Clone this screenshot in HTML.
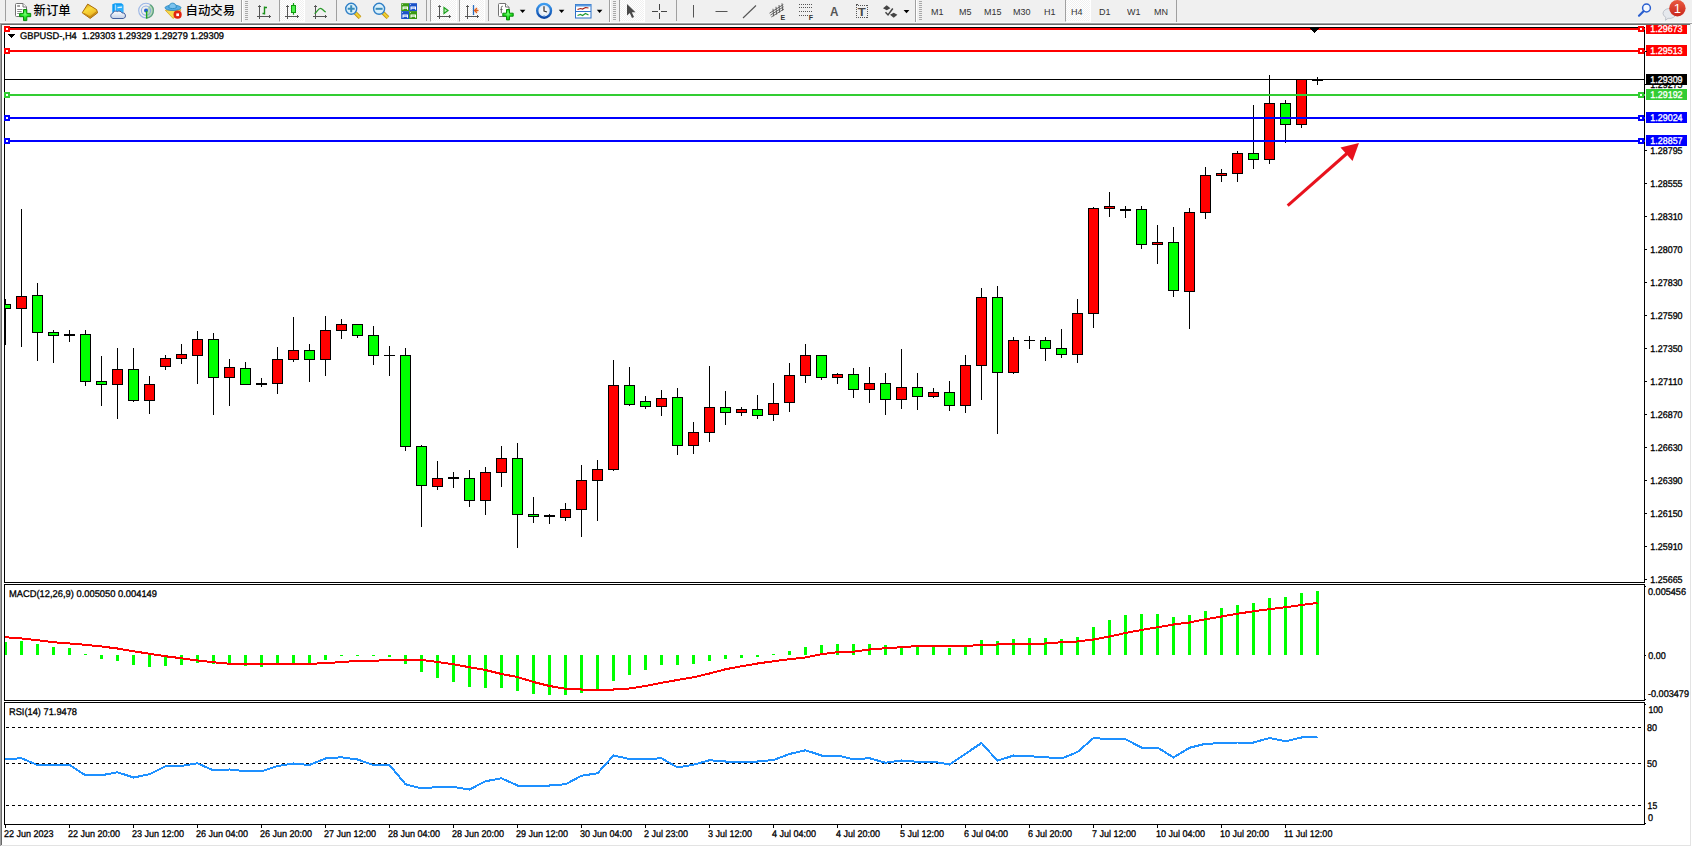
<!DOCTYPE html>
<html><head><meta charset="utf-8"><title>GBPUSD-,H4</title>
<style>
html,body{margin:0;padding:0;background:#fff;}
body{width:1692px;height:847px;overflow:hidden;position:relative;font-family:"Liberation Sans","Noto Sans CJK SC",sans-serif;}
#tb{position:absolute;left:0;top:0;width:1692px;height:23px;background:#f0f0f0;}
#tb .sep{position:absolute;top:0;width:1px;height:21px;background:#a0a0a0;}
#tb .grip{position:absolute;top:1px;width:3px;height:19px;background:repeating-linear-gradient(to bottom,#a8a8a8 0,#a8a8a8 1px,#f0f0f0 1px,#f0f0f0 2px);}
#tb .pr{position:absolute;top:0;height:22px;background-color:#f0f0f0;background-image:conic-gradient(#fff 25%,#f0f0f0 0 50%,#fff 0 75%,#f0f0f0 0);background-size:2px 2px;border-left:1px solid #a0a0a0;border-right:1px solid #fff;border-bottom:1px solid #fff;box-sizing:border-box;}
#tb .cn{position:absolute;top:3px;font-weight:500;font-size:12.4px;line-height:16px;color:#000;white-space:nowrap;}
#tb .tf{position:absolute;top:6px;font-size:9.3px;line-height:13px;color:#333;white-space:nowrap;transform-origin:0 0;transform:scaleX(.968);}
#tb svg{position:absolute;overflow:visible;}
.dd{position:absolute;top:10px;width:0;height:0;border-left:2.500px solid transparent;border-right:2.500px solid transparent;border-top:3px solid #000;}
#e0{position:absolute;left:0;top:22px;width:1692px;height:1px;background:#fafafa;}
#e1{position:absolute;left:0;top:23px;width:1692px;height:1px;background:#a0a0a0;}
#e2{position:absolute;left:1px;top:24px;width:1690px;height:1px;background:#696969;}
#e3{position:absolute;left:0;top:23px;width:1px;height:823px;background:#a0a0a0;}
#e4{position:absolute;left:1px;top:24px;width:1px;height:821px;background:#696969;}
#e5{position:absolute;left:1690px;top:24px;width:1px;height:822px;background:#e3e3e3;}
#e6{position:absolute;left:1px;top:845px;width:1690px;height:1px;background:#e3e3e3;}
#chart{position:absolute;left:0;top:0;}
#chart text{font-family:"Liberation Sans",sans-serif;text-rendering:geometricPrecision;}
</style></head><body>
<div id="tb">
<div class="sep" style="left:5px"></div>
<!-- new order -->
<svg style="left:14px;top:2px" width="19" height="20" viewBox="14 2 19 20">
<defs><radialGradient id="gp" cx=".5" cy=".4" r=".6"><stop offset="0" stop-color="#7dff7d"/><stop offset=".5" stop-color="#27e427"/><stop offset="1" stop-color="#10b810"/></radialGradient></defs>
<path d="M16.500 3.500h6.500l3.500 3.500v8.500a1 1 0 0 1 -1 1h-9a1 1 0 0 1 -1 -1v-11a1 1 0 0 1 1 -1z" fill="#fff" stroke="#737373"/>
<path d="M23 3.500v3.500h3.500" fill="#fff" stroke="#737373"/>
<rect x="17.200" y="5.200" width="2.800" height="1.600" fill="#8a8a8a"/>
<path d="M17.200 9.500h5.300M17.200 11.500h4.500M17.200 13.500h2" stroke="#8a8a8a" fill="none"/>
<path d="M23.500 9.500h3.300v3.900h3.900v3.300h-3.900v3.900h-3.300v-3.900h-3.900v-3.300h3.900z" fill="url(#gp)" stroke="#0a8f0a" stroke-width="1"/>
</svg>
<span class="cn" style="left:33.500px">新订单</span>
<!-- book -->
<svg style="left:81px;top:3px" width="18" height="17" viewBox="81 3 18 17">
<defs><linearGradient id="gd" x1="0.2" y1="0" x2="0.7" y2="1"><stop offset="0" stop-color="#d9a21a"/><stop offset=".35" stop-color="#fbdc3c"/><stop offset=".7" stop-color="#f0c02a"/><stop offset="1" stop-color="#b9780e"/></linearGradient></defs>
<path d="M87.700 4.100L96.600 9.600L97.600 12.800L90.200 18.400L82.200 12.800z" fill="url(#gd)" stroke="#a86c0c" stroke-width="1" stroke-linejoin="round"/>
<path d="M83.500 13.300L90.300 17L96.800 11.600" fill="none" stroke="#c58a14" stroke-width="1.200"/>
</svg>
<!-- cloud -->
<svg style="left:109px;top:2px" width="19" height="18" viewBox="109 2 19 18">
<defs><linearGradient id="gc" x1="0" y1="0" x2="0" y2="1"><stop offset="0" stop-color="#ffffff"/><stop offset="1" stop-color="#c3cfe6"/></linearGradient></defs>
<path d="M112.300 4.200L115 3.200h6.500l1.800 1.500v8h-11z" fill="#0d9cf4"/>
<path d="M115.500 5.200h7.800v7.500h-7.800z" fill="#2fb0fb"/>
<path d="M115.300 4.500v8" stroke="#d4efff" stroke-width=".9"/>
<path d="M117.500 7.700l4.500-.6" stroke="#e4f5ff" stroke-width="1.200"/>
<path d="M113 18.500a2.700 2.700 0 0 1 -.2-5.300a3 3 0 0 1 4.600-1.600a3.200 3.200 0 0 1 4.600 1.300a2.800 2.800 0 0 1 1.300 5.600z" fill="url(#gc)" stroke="#44609e" stroke-width="1"/>
</svg>
<!-- signal -->
<svg style="left:137px;top:2px" width="18" height="18" viewBox="137 2 18 18">
<path d="M146 10.600L150.500 4.200A7.800 7.800 0 0 1 146.600 18.400z" fill="#6fbf6f" opacity=".45"/>
<circle cx="146" cy="10.600" r="7.300" fill="none" stroke="#86a8e4" stroke-width="1.100" opacity=".8"/>
<circle cx="146" cy="10.600" r="4.600" fill="none" stroke="#7aa0e0" stroke-width="1.100" opacity=".8"/>
<path d="M150.300 4.700a7.300 7.300 0 0 1 -3.600 13.200" fill="none" stroke="#4f9f5f" stroke-width="1.300" opacity=".8"/>
<circle cx="146" cy="10.400" r="2" fill="#2563cf"/>
<path d="M146.600 11v7.700" stroke="#1fa51f" stroke-width="1.400"/>
</svg>
<!-- autotrade -->
<svg style="left:164px;top:2px" width="19" height="18" viewBox="164 2 19 18">
<path d="M165.300 10.300L181 9.800L173.200 18.500z" fill="#f7d84a" stroke="#d9a318" stroke-width=".8" stroke-linejoin="round"/>
<ellipse cx="173" cy="7.800" rx="8" ry="2.700" fill="#58ade6" stroke="#2386bd" stroke-width=".8"/>
<path d="M168.800 7.600c0-6 7.600-6 7.600 0c-2 1.300-5.600 1.300-7.600 0z" fill="#7cc3ee" stroke="#2386bd" stroke-width=".8"/>
<circle cx="177.600" cy="14.700" r="4.100" fill="#e2230f"/>
<rect x="176.300" y="13.400" width="2.700" height="2.700" fill="#fff"/>
</svg>
<span class="cn" style="left:185.500px">自动交易</span>
<div class="sep" style="left:241px;height:23px;box-shadow:1px 0 0 #fff"></div><div class="grip" style="left:245px"></div>
<!-- bars icon -->
<svg style="left:256px;top:3px" width="16" height="17" viewBox="0 3 16 17">
<path d="M3.500 19V5.500M2 7l1.500-1.500l1.500 1.500M1 16.500h14M13 15l1.500 1.500l-1.500 1.500" fill="none" stroke="#555"/>
<path d="M8.500 14.500v-8M6.500 13.500h2M8.500 7.500h2.500" fill="none" stroke="#1a8f1a" stroke-width="1.400"/>
</svg>
<div class="pr" style="left:279px;width:26px"></div>
<svg style="left:284px;top:2px" width="16" height="18" viewBox="0 2 16 18">
<path d="M3.500 19V5.500M2 7l1.500-1.500l1.500 1.500M1 16.500h14M13 15l1.500 1.500l-1.500 1.500" fill="none" stroke="#555"/>
<path d="M9.500 3v11.700" stroke="#12a012" stroke-width="1.200"/><rect x="7.500" y="5.500" width="4" height="7" fill="#4cf04c" stroke="#0f9a0f"/>
</svg>
<svg style="left:312px;top:3px" width="16" height="17" viewBox="0 3 16 17">
<path d="M3.500 19V5.500M2 7l1.500-1.500l1.500 1.500M1 16.500h14M13 15l1.500 1.500l-1.500 1.500" fill="none" stroke="#555"/>
<path d="M2.500 13.500c2.500-1 3.500-5.200 6-5.200c2 0 3 3 5.300 3.700" fill="none" stroke="#2a9a2a" stroke-width="1.200"/>
</svg>
<div class="sep" style="left:336px"></div>
<!-- zoom in -->
<svg style="left:344px;top:2px" width="18" height="18" viewBox="344 2 18 18">
<path d="M355.200 12.800l4.800 4.800" stroke="#b98a10" stroke-width="3.800" stroke-linecap="butt"/>
<path d="M355.200 12.800l4.800 4.800" stroke="#f0d030" stroke-width="2.200" stroke-linecap="butt"/>
<circle cx="351.200" cy="8.800" r="5.500" fill="#d9f0fb" stroke="#2f7fc6" stroke-width="1.400"/>
<path d="M347.700 8.800h7M351.200 5.300v7" stroke="#3a8cba" stroke-width="2"/>
</svg>
<svg style="left:371px;top:2px" width="19" height="18" viewBox="371 2 19 18">
<path d="M383.100 12.800l4.800 4.800" stroke="#b98a10" stroke-width="3.800" stroke-linecap="butt"/>
<path d="M383.100 12.800l4.800 4.800" stroke="#f0d030" stroke-width="2.200" stroke-linecap="butt"/>
<circle cx="379.100" cy="8.800" r="5.500" fill="#d9f0fb" stroke="#2f7fc6" stroke-width="1.400"/>
<path d="M375.600 8.800h7" stroke="#3a8cba" stroke-width="2"/>
</svg>
<!-- tile -->
<svg style="left:401px;top:3px" width="17" height="16" viewBox="0 0 17 16">
<rect x=".2" y=".2" width="7.900" height="7.900" fill="#3a9a12"/><rect x="8.100" y=".2" width="7.900" height="7.900" fill="#1c52c8"/>
<rect x=".2" y="8.100" width="7.900" height="7.900" fill="#1c52c8"/><rect x="8.100" y="8.100" width="7.900" height="7.900" fill="#3a9a12"/>
<path d="M1.500 3.500h5.500v3.300h-1v-1h-3.500v1h-1z" fill="#fff"/><path d="M9.500 3.500h5.500v3.300h-1v-1h-3.500v1h-1z" fill="#fff"/>
<path d="M1.500 11.500h5.500v3.300h-1v-1h-3.500v1h-1z" fill="#fff"/><path d="M9.500 11.500h5.500v3.300h-1v-1h-3.500v1h-1z" fill="#fff"/>
<path d="M2.500 4.700h3.500" stroke="#9ad07a" stroke-width=".8"/><path d="M10.500 4.700h3.500" stroke="#8aa8ea" stroke-width=".8"/>
<path d="M2.500 12.700h3.500" stroke="#8aa8ea" stroke-width=".8"/><path d="M10.500 12.700h3.500" stroke="#9ad07a" stroke-width=".8"/>
<rect x="1.200" y="1.200" width=".8" height=".8" fill="#fff"/><rect x="9.200" y="1.200" width=".8" height=".8" fill="#fff"/><rect x="1.200" y="9.200" width=".8" height=".8" fill="#fff"/><rect x="9.200" y="9.200" width=".8" height=".8" fill="#fff"/>
</svg>
<div class="sep" style="left:426px"></div>
<div class="pr" style="left:430px;width:27px"></div>
<svg style="left:436px;top:3px" width="16" height="17" viewBox="0 3 16 17">
<path d="M3.500 19V5.500M2 7l1.500-1.500l1.500 1.500M1 16.500h14M13 15l1.500 1.500l-1.500 1.500" fill="none" stroke="#555"/>
<path d="M8 7.500l4 3l-4 3z" fill="#bff0bf" stroke="#1fa01f" stroke-width="1.200"/>
</svg>
<div class="pr" style="left:459px;width:26px"></div>
<svg style="left:464px;top:3px" width="16" height="17" viewBox="0 3 16 17">
<path d="M3.500 19V5.500M2 7l1.500-1.500l1.500 1.500M1 16.500h14M13 15l1.500 1.500l-1.500 1.500" fill="none" stroke="#555"/>
<path d="M9.500 5v10" stroke="#2a6fc0" stroke-width="1.300"/>
<path d="M10.500 10.500h4M13 8l-2.500 2.500l2.500 2.500" fill="none" stroke="#e0601a" stroke-width="1.300"/>
</svg>
<div class="sep" style="left:488px"></div>
<!-- doc plus -->
<svg style="left:497px;top:2px" width="18" height="20" viewBox="497 2 18 20">
<path d="M499.500 3.500h6l3.500 3.500v8.500a1 1 0 0 1 -1 1h-8.500a1 1 0 0 1 -1 -1v-11a1 1 0 0 1 1 -1z" fill="#fff" stroke="#737373"/>
<path d="M505.500 3.500v3.500h3.500" fill="#fff" stroke="#737373"/>
<path d="M502.800 6.300c-1.300-.3-1.500.5-1.500 1.500v5.500M500.300 9.500h2.200" stroke="#555" fill="none" stroke-width=".9"/>
<path d="M506.500 9.500h3v3.700h3.700v3h-3.700v3.700h-3v-3.700h-3.700v-3h3.700z" fill="url(#gp)" stroke="#0a8f0a"/>
</svg>
<svg style="left:519px;top:9px" width="8" height="5" viewBox="0 0 8 5"><polygon points="0.800,0.700 6.400,0.700 3.600,4" fill="#000"/></svg>
<!-- clock -->
<svg style="left:535px;top:2px" width="18" height="18" viewBox="535 2 18 18">
<defs><linearGradient id="gk" x1="0" y1="0" x2="0" y2="1"><stop offset="0" stop-color="#3d9df2"/><stop offset="1" stop-color="#0b47a6"/></linearGradient>
<radialGradient id="gf"><stop offset="0" stop-color="#fff"/><stop offset="1" stop-color="#d8e2ee"/></radialGradient></defs>
<circle cx="544.100" cy="10.800" r="6.900" fill="url(#gf)" stroke="url(#gk)" stroke-width="2.400"/>
<path d="M544 6.300v4.700l3 1" fill="none" stroke="#333" stroke-width="1.200"/>
<path d="M544.100 15.300v.8" stroke="#5a9ae8" stroke-width="1.200"/>
</svg>
<svg style="left:558px;top:9px" width="8" height="5" viewBox="0 0 8 5"><polygon points="0.800,0.700 6.400,0.700 3.600,4" fill="#000"/></svg>
<!-- template -->
<svg style="left:575px;top:4px" width="17" height="15" viewBox="0 0 17 15">
<rect x=".5" y=".5" width="15.500" height="13.500" fill="#fff" stroke="#2d72c8"/>
<rect x=".5" y=".5" width="15.500" height="2" fill="#5a9ae0"/>
<path d="M1 7.500h15" stroke="#2d72c8"/>
<path d="M2.500 5.500l3-1l2 .5l3-1.500l3 .5" fill="none" stroke="#a01c10" stroke-width="1.200"/>
<path d="M2.500 11.500l3-1l2 1l3-2l3 1.500" fill="none" stroke="#1f9a2f" stroke-width="1.200"/>
</svg>
<svg style="left:596px;top:9px" width="8" height="5" viewBox="0 0 8 5"><polygon points="0.800,0.700 6.400,0.700 3.600,4" fill="#000"/></svg>
<div class="sep" style="left:609px;height:23px;box-shadow:1px 0 0 #fff"></div><div class="grip" style="left:613px"></div>
<div class="pr" style="left:619px;width:26px"></div>
<svg style="left:626px;top:3px" width="11" height="16" viewBox="0 0 11 16">
<path d="M1 1v11.500l2.800-2.500l2.200 5l2-.9l-2.200-4.800h3.700z" fill="#4a4a4a"/>
</svg>
<svg style="left:652px;top:4px" width="16" height="16" viewBox="0 0 16 16">
<path d="M7.500 0v6M7.500 9v6M0 7.500h6M9 7.500h6" stroke="#444" fill="none"/>
</svg>
<div class="sep" style="left:676px"></div>
<svg style="left:690px;top:4px" width="6" height="15" viewBox="0 0 6 15"><path d="M3.500 1v12.500" stroke="#555"/></svg>
<svg style="left:715px;top:9px" width="14" height="5" viewBox="0 0 14 5"><path d="M.5 2.500h12" stroke="#555"/></svg>
<svg style="left:742px;top:4px" width="15" height="15" viewBox="0 0 15 15"><path d="M1 14L14 1.500" stroke="#555" stroke-width="1.100"/></svg>
<!-- channel -->
<svg style="left:768px;top:2px" width="18" height="19" viewBox="768 2 18 19">
<path d="M769.500 13.200L783.300 4.600M771.300 17L784 9M770.400 15.100L783.600 6.800" stroke="#555" stroke-width=".9" fill="none"/>
<path d="M773 8.800l.6 7.500M776 6.800l.6 7.800M779 5l.6 7.600M782 3.300l.6 7.300" stroke="#555" stroke-width=".9"/>
<text x="780.500" y="19.600" font-size="7" font-weight="bold" fill="#333" font-family="Liberation Sans,sans-serif">E</text>
</svg>
<!-- fibo -->
<svg style="left:798px;top:2px" width="17" height="19" viewBox="0 0 17 19">
<path d="M1 2.500h13M1 5.500h13M1 9.500h13M1 13.500h9" stroke="#555" stroke-dasharray="1 1" fill="none" shape-rendering="crispEdges"/>
<text x="10.700" y="17.600" font-size="7" font-weight="bold" fill="#333" font-family="Liberation Sans,sans-serif">F</text>
</svg>
<span style="position:absolute;left:829.500px;top:5px;font-size:13px;line-height:14px;color:#555;font-weight:bold;transform-origin:0 0;transform:scaleX(.9)">A</span>
<svg style="left:856px;top:4px" width="13" height="15" viewBox="0 0 13 15">
<path d="M0 1.500h12M0 13.500h12M.5 1v13M11.500 1v13" fill="none" stroke="#555" stroke-dasharray="1 1" shape-rendering="crispEdges"/>
<rect x="0" y="0" width="2" height="1" fill="#555"/>
<text x="1.700" y="11.800" font-size="10.600" font-weight="bold" fill="#4a4a4a" font-family="Liberation Sans,sans-serif" textLength="8" lengthAdjust="spacingAndGlyphs">T</text>
</svg>
<svg style="left:882px;top:4px" width="17" height="15" viewBox="882 4 17 15">
<path d="M886.700 5.200l3.700 3l-3.700 2l-3.700-2z" fill="#444"/>
<path d="M893.700 17.800l-3.700-3l3.700-2l3.700 2z" fill="#444"/>
<path d="M885.500 12.300l2.500 2.600l4.800-6.400" fill="none" stroke="#444" stroke-width="1.500"/>
</svg>
<svg style="left:903px;top:9px" width="8" height="5" viewBox="0 0 8 5"><polygon points="0.600,0.900 6.400,0.900 3.500,4.300" fill="#000"/></svg>
<div class="sep" style="left:915px;height:23px;box-shadow:1px 0 0 #fff"></div><div class="grip" style="left:919px"></div>
<span class="tf" style="left:930.500px">M1</span>
<span class="tf" style="left:958.500px">M5</span>
<span class="tf" style="left:984px">M15</span>
<span class="tf" style="left:1012.500px">M30</span>
<span class="tf" style="left:1043.500px">H1</span>
<div class="pr" style="left:1065px;width:26px"></div>
<span class="tf" style="left:1070.500px">H4</span>
<span class="tf" style="left:1099px">D1</span>
<span class="tf" style="left:1127px">W1</span>
<span class="tf" style="left:1153.500px">MN</span>
<div class="sep" style="left:1176px;height:23px"></div>
<!-- search -->
<svg style="left:1637px;top:3px" width="16" height="15" viewBox="1637 3 16 15">
<circle cx="1646.500" cy="8" r="3.900" fill="#f4f8ff" stroke="#2a5fd0" stroke-width="1.500"/>
<path d="M1643.500 11.200l-4.500 4.500" stroke="#2a5fd0" stroke-width="2.200" stroke-linecap="round"/>
</svg>
<!-- chat -->
<svg style="left:1660px;top:0" width="30" height="22" viewBox="1660 0 30 22">
<defs><linearGradient id="gb" x1="0" y1="0" x2="0" y2="1"><stop offset="0" stop-color="#ea5a40"/><stop offset="1" stop-color="#c8261c"/></linearGradient></defs>
<path d="M1663 13.500a6.500 5 0 0 1 13 0a6.500 5 0 0 1-8 4.800l-2.500 2l.3-3a6.500 5 0 0 1-2.800-3.800z" fill="#e6e9ee" stroke="#b4b9c2" stroke-width=".8"/>
<circle cx="1677.400" cy="8.200" r="8.200" fill="url(#gb)"/>
<text x="1677.400" y="13" font-size="13" fill="#fff" text-anchor="middle" font-family="Liberation Sans,sans-serif">1</text>
</svg>

</div>
<div id="e0"></div><div id="e1"></div><div id="e2"></div><div id="e3"></div><div id="e4"></div><div id="e5"></div><div id="e6"></div>
<svg id="chart" width="1692" height="847" viewBox="0 0 1692 847" shape-rendering="crispEdges">
<rect x="4" y="27" width="1641" height="1" fill="#000"/>
<rect x="4" y="27" width="1" height="556" fill="#000"/>
<rect x="4" y="582" width="1641" height="1" fill="#000"/>
<rect x="1644" y="27" width="1" height="556" fill="#000"/>
<rect x="1644" y="584" width="1" height="117" fill="#000"/>
<rect x="1644" y="702" width="1" height="123" fill="#000"/>
<rect x="4" y="584" width="1641" height="1" fill="#000"/>
<rect x="4" y="584" width="1" height="117" fill="#000"/>
<rect x="4" y="700" width="1641" height="1" fill="#000"/>
<rect x="4" y="702" width="1641" height="1" fill="#000"/>
<rect x="4" y="702" width="1" height="123" fill="#000"/>
<rect x="4" y="824" width="1641" height="1" fill="#000"/>
<rect x="1645" y="84" width="2" height="1" fill="#000"/>
<text x="1650.3" y="88" font-size="9.7" fill="#000" stroke="#000" stroke-width=".3" text-anchor="start" textLength="32.3" lengthAdjust="spacingAndGlyphs">1.29275</text>
<rect x="1645" y="150" width="2" height="1" fill="#000"/>
<text x="1650.3" y="154" font-size="9.7" fill="#000" stroke="#000" stroke-width=".3" text-anchor="start" textLength="32.3" lengthAdjust="spacingAndGlyphs">1.28795</text>
<rect x="1645" y="183" width="2" height="1" fill="#000"/>
<text x="1650.3" y="187" font-size="9.7" fill="#000" stroke="#000" stroke-width=".3" text-anchor="start" textLength="32.3" lengthAdjust="spacingAndGlyphs">1.28555</text>
<rect x="1645" y="216" width="2" height="1" fill="#000"/>
<text x="1650.3" y="220" font-size="9.7" fill="#000" stroke="#000" stroke-width=".3" text-anchor="start" textLength="32.3" lengthAdjust="spacingAndGlyphs">1.28310</text>
<rect x="1645" y="249" width="2" height="1" fill="#000"/>
<text x="1650.3" y="253" font-size="9.7" fill="#000" stroke="#000" stroke-width=".3" text-anchor="start" textLength="32.3" lengthAdjust="spacingAndGlyphs">1.28070</text>
<rect x="1645" y="282" width="2" height="1" fill="#000"/>
<text x="1650.3" y="286" font-size="9.7" fill="#000" stroke="#000" stroke-width=".3" text-anchor="start" textLength="32.3" lengthAdjust="spacingAndGlyphs">1.27830</text>
<rect x="1645" y="315" width="2" height="1" fill="#000"/>
<text x="1650.3" y="319" font-size="9.7" fill="#000" stroke="#000" stroke-width=".3" text-anchor="start" textLength="32.3" lengthAdjust="spacingAndGlyphs">1.27590</text>
<rect x="1645" y="348" width="2" height="1" fill="#000"/>
<text x="1650.3" y="352" font-size="9.7" fill="#000" stroke="#000" stroke-width=".3" text-anchor="start" textLength="32.3" lengthAdjust="spacingAndGlyphs">1.27350</text>
<rect x="1645" y="381" width="2" height="1" fill="#000"/>
<text x="1650.3" y="385" font-size="9.7" fill="#000" stroke="#000" stroke-width=".3" text-anchor="start" textLength="32.3" lengthAdjust="spacingAndGlyphs">1.27110</text>
<rect x="1645" y="414" width="2" height="1" fill="#000"/>
<text x="1650.3" y="418" font-size="9.7" fill="#000" stroke="#000" stroke-width=".3" text-anchor="start" textLength="32.3" lengthAdjust="spacingAndGlyphs">1.26870</text>
<rect x="1645" y="447" width="2" height="1" fill="#000"/>
<text x="1650.3" y="451" font-size="9.7" fill="#000" stroke="#000" stroke-width=".3" text-anchor="start" textLength="32.3" lengthAdjust="spacingAndGlyphs">1.26630</text>
<rect x="1645" y="480" width="2" height="1" fill="#000"/>
<text x="1650.3" y="484" font-size="9.7" fill="#000" stroke="#000" stroke-width=".3" text-anchor="start" textLength="32.3" lengthAdjust="spacingAndGlyphs">1.26390</text>
<rect x="1645" y="513" width="2" height="1" fill="#000"/>
<text x="1650.3" y="517" font-size="9.7" fill="#000" stroke="#000" stroke-width=".3" text-anchor="start" textLength="32.3" lengthAdjust="spacingAndGlyphs">1.26150</text>
<rect x="1645" y="546" width="2" height="1" fill="#000"/>
<text x="1650.3" y="550" font-size="9.7" fill="#000" stroke="#000" stroke-width=".3" text-anchor="start" textLength="32.3" lengthAdjust="spacingAndGlyphs">1.25910</text>
<rect x="1645" y="579" width="2" height="1" fill="#000"/>
<text x="1650.3" y="583" font-size="9.7" fill="#000" stroke="#000" stroke-width=".3" text-anchor="start" textLength="32.3" lengthAdjust="spacingAndGlyphs">1.25665</text>
<rect x="5" y="299" width="1" height="46" fill="#000"/>
<rect x="5" y="304" width="6" height="5" fill="#000"/>
<rect x="5" y="305" width="5" height="3" fill="#00ff00"/>
<rect x="21" y="209" width="1" height="138" fill="#000"/>
<rect x="16" y="296" width="11" height="13" fill="#000"/>
<rect x="17" y="297" width="9" height="11" fill="#ff0000"/>
<rect x="37" y="283" width="1" height="78" fill="#000"/>
<rect x="32" y="295" width="11" height="38" fill="#000"/>
<rect x="33" y="296" width="9" height="36" fill="#00ff00"/>
<rect x="53" y="330" width="1" height="33" fill="#000"/>
<rect x="48" y="332" width="11" height="4" fill="#000"/>
<rect x="49" y="333" width="9" height="2" fill="#00ff00"/>
<rect x="69" y="330" width="1" height="12" fill="#000"/>
<rect x="64" y="334" width="11" height="2" fill="#000"/>
<rect x="85" y="330" width="1" height="56" fill="#000"/>
<rect x="80" y="334" width="11" height="48" fill="#000"/>
<rect x="81" y="335" width="9" height="46" fill="#00ff00"/>
<rect x="101" y="356" width="1" height="50" fill="#000"/>
<rect x="96" y="381" width="11" height="4" fill="#000"/>
<rect x="97" y="382" width="9" height="2" fill="#00ff00"/>
<rect x="117" y="348" width="1" height="71" fill="#000"/>
<rect x="112" y="369" width="11" height="16" fill="#000"/>
<rect x="113" y="370" width="9" height="14" fill="#ff0000"/>
<rect x="133" y="348" width="1" height="54" fill="#000"/>
<rect x="128" y="369" width="11" height="32" fill="#000"/>
<rect x="129" y="370" width="9" height="30" fill="#00ff00"/>
<rect x="149" y="376" width="1" height="38" fill="#000"/>
<rect x="144" y="384" width="11" height="17" fill="#000"/>
<rect x="145" y="385" width="9" height="15" fill="#ff0000"/>
<rect x="165" y="355" width="1" height="15" fill="#000"/>
<rect x="160" y="358" width="11" height="9" fill="#000"/>
<rect x="161" y="359" width="9" height="7" fill="#ff0000"/>
<rect x="181" y="344" width="1" height="20" fill="#000"/>
<rect x="176" y="354" width="11" height="5" fill="#000"/>
<rect x="177" y="355" width="9" height="3" fill="#ff0000"/>
<rect x="197" y="331" width="1" height="53" fill="#000"/>
<rect x="192" y="339" width="11" height="17" fill="#000"/>
<rect x="193" y="340" width="9" height="15" fill="#ff0000"/>
<rect x="213" y="333" width="1" height="82" fill="#000"/>
<rect x="208" y="339" width="11" height="39" fill="#000"/>
<rect x="209" y="340" width="9" height="37" fill="#00ff00"/>
<rect x="229" y="359" width="1" height="47" fill="#000"/>
<rect x="224" y="367" width="11" height="11" fill="#000"/>
<rect x="225" y="368" width="9" height="9" fill="#ff0000"/>
<rect x="245" y="362" width="1" height="23" fill="#000"/>
<rect x="240" y="368" width="11" height="17" fill="#000"/>
<rect x="241" y="369" width="9" height="15" fill="#00ff00"/>
<rect x="261" y="378" width="1" height="9" fill="#000"/>
<rect x="256" y="383" width="11" height="2" fill="#000"/>
<rect x="277" y="347" width="1" height="47" fill="#000"/>
<rect x="272" y="359" width="11" height="25" fill="#000"/>
<rect x="273" y="360" width="9" height="23" fill="#ff0000"/>
<rect x="293" y="317" width="1" height="45" fill="#000"/>
<rect x="288" y="350" width="11" height="10" fill="#000"/>
<rect x="289" y="351" width="9" height="8" fill="#ff0000"/>
<rect x="309" y="344" width="1" height="38" fill="#000"/>
<rect x="304" y="350" width="11" height="10" fill="#000"/>
<rect x="305" y="351" width="9" height="8" fill="#00ff00"/>
<rect x="325" y="316" width="1" height="60" fill="#000"/>
<rect x="320" y="330" width="11" height="30" fill="#000"/>
<rect x="321" y="331" width="9" height="28" fill="#ff0000"/>
<rect x="341" y="319" width="1" height="20" fill="#000"/>
<rect x="336" y="324" width="11" height="7" fill="#000"/>
<rect x="337" y="325" width="9" height="5" fill="#ff0000"/>
<rect x="357" y="324" width="1" height="14" fill="#000"/>
<rect x="352" y="324" width="11" height="12" fill="#000"/>
<rect x="353" y="325" width="9" height="10" fill="#00ff00"/>
<rect x="373" y="326" width="1" height="39" fill="#000"/>
<rect x="368" y="335" width="11" height="21" fill="#000"/>
<rect x="369" y="336" width="9" height="19" fill="#00ff00"/>
<rect x="389" y="346" width="1" height="30" fill="#000"/>
<rect x="384" y="355" width="11" height="1" fill="#000"/>
<rect x="405" y="348" width="1" height="103" fill="#000"/>
<rect x="400" y="355" width="11" height="92" fill="#000"/>
<rect x="401" y="356" width="9" height="90" fill="#00ff00"/>
<rect x="421" y="445" width="1" height="82" fill="#000"/>
<rect x="416" y="446" width="11" height="40" fill="#000"/>
<rect x="417" y="447" width="9" height="38" fill="#00ff00"/>
<rect x="437" y="461" width="1" height="29" fill="#000"/>
<rect x="432" y="478" width="11" height="9" fill="#000"/>
<rect x="433" y="479" width="9" height="7" fill="#ff0000"/>
<rect x="453" y="472" width="1" height="16" fill="#000"/>
<rect x="448" y="477" width="11" height="2" fill="#000"/>
<rect x="469" y="470" width="1" height="37" fill="#000"/>
<rect x="464" y="478" width="11" height="23" fill="#000"/>
<rect x="465" y="479" width="9" height="21" fill="#00ff00"/>
<rect x="485" y="467" width="1" height="48" fill="#000"/>
<rect x="480" y="472" width="11" height="29" fill="#000"/>
<rect x="481" y="473" width="9" height="27" fill="#ff0000"/>
<rect x="501" y="446" width="1" height="41" fill="#000"/>
<rect x="496" y="458" width="11" height="15" fill="#000"/>
<rect x="497" y="459" width="9" height="13" fill="#ff0000"/>
<rect x="517" y="443" width="1" height="105" fill="#000"/>
<rect x="512" y="458" width="11" height="57" fill="#000"/>
<rect x="513" y="459" width="9" height="55" fill="#00ff00"/>
<rect x="533" y="497" width="1" height="26" fill="#000"/>
<rect x="528" y="514" width="11" height="3" fill="#000"/>
<rect x="529" y="515" width="9" height="1" fill="#00ff00"/>
<rect x="549" y="514" width="1" height="10" fill="#000"/>
<rect x="544" y="515" width="11" height="2" fill="#000"/>
<rect x="565" y="503" width="1" height="18" fill="#000"/>
<rect x="560" y="509" width="11" height="9" fill="#000"/>
<rect x="561" y="510" width="9" height="7" fill="#ff0000"/>
<rect x="581" y="465" width="1" height="72" fill="#000"/>
<rect x="576" y="480" width="11" height="30" fill="#000"/>
<rect x="577" y="481" width="9" height="28" fill="#ff0000"/>
<rect x="597" y="460" width="1" height="61" fill="#000"/>
<rect x="592" y="469" width="11" height="12" fill="#000"/>
<rect x="593" y="470" width="9" height="10" fill="#ff0000"/>
<rect x="613" y="360" width="1" height="111" fill="#000"/>
<rect x="608" y="385" width="11" height="85" fill="#000"/>
<rect x="609" y="386" width="9" height="83" fill="#ff0000"/>
<rect x="629" y="367" width="1" height="39" fill="#000"/>
<rect x="624" y="385" width="11" height="20" fill="#000"/>
<rect x="625" y="386" width="9" height="18" fill="#00ff00"/>
<rect x="645" y="396" width="1" height="13" fill="#000"/>
<rect x="640" y="401" width="11" height="6" fill="#000"/>
<rect x="641" y="402" width="9" height="4" fill="#00ff00"/>
<rect x="661" y="390" width="1" height="26" fill="#000"/>
<rect x="656" y="398" width="11" height="9" fill="#000"/>
<rect x="657" y="399" width="9" height="7" fill="#ff0000"/>
<rect x="677" y="388" width="1" height="67" fill="#000"/>
<rect x="672" y="397" width="11" height="49" fill="#000"/>
<rect x="673" y="398" width="9" height="47" fill="#00ff00"/>
<rect x="693" y="422" width="1" height="32" fill="#000"/>
<rect x="688" y="432" width="11" height="14" fill="#000"/>
<rect x="689" y="433" width="9" height="12" fill="#ff0000"/>
<rect x="709" y="366" width="1" height="76" fill="#000"/>
<rect x="704" y="407" width="11" height="26" fill="#000"/>
<rect x="705" y="408" width="9" height="24" fill="#ff0000"/>
<rect x="725" y="391" width="1" height="34" fill="#000"/>
<rect x="720" y="407" width="11" height="6" fill="#000"/>
<rect x="721" y="408" width="9" height="4" fill="#00ff00"/>
<rect x="741" y="407" width="1" height="9" fill="#000"/>
<rect x="736" y="409" width="11" height="4" fill="#000"/>
<rect x="737" y="410" width="9" height="2" fill="#ff0000"/>
<rect x="757" y="395" width="1" height="24" fill="#000"/>
<rect x="752" y="409" width="11" height="7" fill="#000"/>
<rect x="753" y="410" width="9" height="5" fill="#00ff00"/>
<rect x="773" y="383" width="1" height="38" fill="#000"/>
<rect x="768" y="403" width="11" height="12" fill="#000"/>
<rect x="769" y="404" width="9" height="10" fill="#ff0000"/>
<rect x="789" y="363" width="1" height="49" fill="#000"/>
<rect x="784" y="375" width="11" height="28" fill="#000"/>
<rect x="785" y="376" width="9" height="26" fill="#ff0000"/>
<rect x="805" y="344" width="1" height="39" fill="#000"/>
<rect x="800" y="355" width="11" height="21" fill="#000"/>
<rect x="801" y="356" width="9" height="19" fill="#ff0000"/>
<rect x="821" y="355" width="1" height="25" fill="#000"/>
<rect x="816" y="355" width="11" height="23" fill="#000"/>
<rect x="817" y="356" width="9" height="21" fill="#00ff00"/>
<rect x="837" y="373" width="1" height="11" fill="#000"/>
<rect x="832" y="374" width="11" height="4" fill="#000"/>
<rect x="833" y="375" width="9" height="2" fill="#ff0000"/>
<rect x="853" y="368" width="1" height="30" fill="#000"/>
<rect x="848" y="374" width="11" height="16" fill="#000"/>
<rect x="849" y="375" width="9" height="14" fill="#00ff00"/>
<rect x="869" y="367" width="1" height="36" fill="#000"/>
<rect x="864" y="383" width="11" height="7" fill="#000"/>
<rect x="865" y="384" width="9" height="5" fill="#ff0000"/>
<rect x="885" y="373" width="1" height="42" fill="#000"/>
<rect x="880" y="383" width="11" height="17" fill="#000"/>
<rect x="881" y="384" width="9" height="15" fill="#00ff00"/>
<rect x="901" y="349" width="1" height="60" fill="#000"/>
<rect x="896" y="387" width="11" height="13" fill="#000"/>
<rect x="897" y="388" width="9" height="11" fill="#ff0000"/>
<rect x="917" y="373" width="1" height="37" fill="#000"/>
<rect x="912" y="387" width="11" height="10" fill="#000"/>
<rect x="913" y="388" width="9" height="8" fill="#00ff00"/>
<rect x="933" y="388" width="1" height="10" fill="#000"/>
<rect x="928" y="392" width="11" height="5" fill="#000"/>
<rect x="929" y="393" width="9" height="3" fill="#ff0000"/>
<rect x="949" y="381" width="1" height="30" fill="#000"/>
<rect x="944" y="392" width="11" height="14" fill="#000"/>
<rect x="945" y="393" width="9" height="12" fill="#00ff00"/>
<rect x="965" y="355" width="1" height="58" fill="#000"/>
<rect x="960" y="365" width="11" height="41" fill="#000"/>
<rect x="961" y="366" width="9" height="39" fill="#ff0000"/>
<rect x="981" y="288" width="1" height="112" fill="#000"/>
<rect x="976" y="297" width="11" height="69" fill="#000"/>
<rect x="977" y="298" width="9" height="67" fill="#ff0000"/>
<rect x="997" y="286" width="1" height="148" fill="#000"/>
<rect x="992" y="297" width="11" height="76" fill="#000"/>
<rect x="993" y="298" width="9" height="74" fill="#00ff00"/>
<rect x="1013" y="337" width="1" height="37" fill="#000"/>
<rect x="1008" y="340" width="11" height="33" fill="#000"/>
<rect x="1009" y="341" width="9" height="31" fill="#ff0000"/>
<rect x="1029" y="336" width="1" height="13" fill="#000"/>
<rect x="1024" y="340" width="11" height="1" fill="#000"/>
<rect x="1045" y="337" width="1" height="24" fill="#000"/>
<rect x="1040" y="340" width="11" height="9" fill="#000"/>
<rect x="1041" y="341" width="9" height="7" fill="#00ff00"/>
<rect x="1061" y="329" width="1" height="29" fill="#000"/>
<rect x="1056" y="348" width="11" height="7" fill="#000"/>
<rect x="1057" y="349" width="9" height="5" fill="#00ff00"/>
<rect x="1077" y="299" width="1" height="64" fill="#000"/>
<rect x="1072" y="313" width="11" height="42" fill="#000"/>
<rect x="1073" y="314" width="9" height="40" fill="#ff0000"/>
<rect x="1093" y="207" width="1" height="121" fill="#000"/>
<rect x="1088" y="208" width="11" height="106" fill="#000"/>
<rect x="1089" y="209" width="9" height="104" fill="#ff0000"/>
<rect x="1109" y="192" width="1" height="25" fill="#000"/>
<rect x="1104" y="206" width="11" height="3" fill="#000"/>
<rect x="1105" y="207" width="9" height="1" fill="#ff0000"/>
<rect x="1125" y="206" width="1" height="12" fill="#000"/>
<rect x="1120" y="209" width="11" height="2" fill="#000"/>
<rect x="1141" y="206" width="1" height="43" fill="#000"/>
<rect x="1136" y="209" width="11" height="36" fill="#000"/>
<rect x="1137" y="210" width="9" height="34" fill="#00ff00"/>
<rect x="1157" y="225" width="1" height="39" fill="#000"/>
<rect x="1152" y="242" width="11" height="3" fill="#000"/>
<rect x="1153" y="243" width="9" height="1" fill="#ff0000"/>
<rect x="1173" y="227" width="1" height="70" fill="#000"/>
<rect x="1168" y="242" width="11" height="49" fill="#000"/>
<rect x="1169" y="243" width="9" height="47" fill="#00ff00"/>
<rect x="1189" y="208" width="1" height="121" fill="#000"/>
<rect x="1184" y="212" width="11" height="80" fill="#000"/>
<rect x="1185" y="213" width="9" height="78" fill="#ff0000"/>
<rect x="1205" y="167" width="1" height="52" fill="#000"/>
<rect x="1200" y="175" width="11" height="38" fill="#000"/>
<rect x="1201" y="176" width="9" height="36" fill="#ff0000"/>
<rect x="1221" y="169" width="1" height="13" fill="#000"/>
<rect x="1216" y="173" width="11" height="3" fill="#000"/>
<rect x="1217" y="174" width="9" height="1" fill="#ff0000"/>
<rect x="1237" y="151" width="1" height="31" fill="#000"/>
<rect x="1232" y="153" width="11" height="21" fill="#000"/>
<rect x="1233" y="154" width="9" height="19" fill="#ff0000"/>
<rect x="1253" y="105" width="1" height="64" fill="#000"/>
<rect x="1248" y="153" width="11" height="7" fill="#000"/>
<rect x="1249" y="154" width="9" height="5" fill="#00ff00"/>
<rect x="1269" y="75" width="1" height="89" fill="#000"/>
<rect x="1264" y="103" width="11" height="57" fill="#000"/>
<rect x="1265" y="104" width="9" height="55" fill="#ff0000"/>
<rect x="1285" y="100" width="1" height="43" fill="#000"/>
<rect x="1280" y="103" width="11" height="22" fill="#000"/>
<rect x="1281" y="104" width="9" height="20" fill="#00ff00"/>
<rect x="1301" y="79" width="1" height="49" fill="#000"/>
<rect x="1296" y="79" width="11" height="46" fill="#000"/>
<rect x="1297" y="80" width="9" height="44" fill="#ff0000"/>
<rect x="1317" y="77" width="1" height="8" fill="#000"/>
<rect x="1312" y="80" width="11" height="1" fill="#000"/>
<rect x="5" y="79" width="1639" height="1" fill="#000"/>
<rect x="5" y="28" width="1640" height="2" fill="#ff0000"/>
<rect x="4" y="26" width="6" height="6" fill="#ff0000"/>
<rect x="6" y="28" width="2" height="2" fill="#fff"/>
<rect x="1638" y="26" width="6" height="6" fill="#ff0000"/>
<rect x="1640" y="28" width="2" height="2" fill="#fff"/>
<rect x="5" y="50" width="1640" height="2" fill="#ff0000"/>
<rect x="4" y="48" width="6" height="6" fill="#ff0000"/>
<rect x="6" y="50" width="2" height="2" fill="#fff"/>
<rect x="1638" y="48" width="6" height="6" fill="#ff0000"/>
<rect x="1640" y="50" width="2" height="2" fill="#fff"/>
<rect x="5" y="94" width="1640" height="2" fill="#32cd32"/>
<rect x="4" y="92" width="6" height="6" fill="#32cd32"/>
<rect x="6" y="94" width="2" height="2" fill="#fff"/>
<rect x="1638" y="92" width="6" height="6" fill="#32cd32"/>
<rect x="1640" y="94" width="2" height="2" fill="#fff"/>
<rect x="5" y="117" width="1640" height="2" fill="#0000ff"/>
<rect x="4" y="115" width="6" height="6" fill="#0000ff"/>
<rect x="6" y="117" width="2" height="2" fill="#fff"/>
<rect x="1638" y="115" width="6" height="6" fill="#0000ff"/>
<rect x="1640" y="117" width="2" height="2" fill="#fff"/>
<rect x="5" y="140" width="1640" height="2" fill="#0000ff"/>
<rect x="4" y="138" width="6" height="6" fill="#0000ff"/>
<rect x="6" y="140" width="2" height="2" fill="#fff"/>
<rect x="1638" y="138" width="6" height="6" fill="#0000ff"/>
<rect x="1640" y="140" width="2" height="2" fill="#fff"/>
<polygon points="1309,28 1320,28 1314.5,33" fill="#000"/>
<clipPath id="cl"><rect x="0" y="25" width="1692" height="822"/></clipPath><g clip-path="url(#cl)">
<rect x="1646" y="23" width="41" height="11" fill="#ff0000"/>
<text x="1650.3" y="32" font-size="9.7" fill="#fff" stroke="#fff" stroke-width=".3" text-anchor="start" textLength="32.3" lengthAdjust="spacingAndGlyphs">1.29673</text>
</g>
<rect x="1646" y="45" width="41" height="11" fill="#ff0000"/>
<text x="1650.3" y="54" font-size="9.7" fill="#fff" stroke="#fff" stroke-width=".3" text-anchor="start" textLength="32.3" lengthAdjust="spacingAndGlyphs">1.29513</text>
<rect x="1646" y="74" width="41" height="11" fill="#000"/>
<text x="1650.3" y="83" font-size="9.7" fill="#fff" stroke="#fff" stroke-width=".3" text-anchor="start" textLength="32.3" lengthAdjust="spacingAndGlyphs">1.29309</text>
<rect x="1646" y="89" width="41" height="11" fill="#32cd32"/>
<text x="1650.3" y="98" font-size="9.7" fill="#fff" stroke="#fff" stroke-width=".3" text-anchor="start" textLength="32.3" lengthAdjust="spacingAndGlyphs">1.29192</text>
<rect x="1646" y="112" width="41" height="11" fill="#0000ff"/>
<text x="1650.3" y="121" font-size="9.7" fill="#fff" stroke="#fff" stroke-width=".3" text-anchor="start" textLength="32.3" lengthAdjust="spacingAndGlyphs">1.29024</text>
<rect x="1646" y="135" width="41" height="11" fill="#0000ff"/>
<text x="1650.3" y="144" font-size="9.7" fill="#fff" stroke="#fff" stroke-width=".3" text-anchor="start" textLength="32.3" lengthAdjust="spacingAndGlyphs">1.28857</text>
<rect x="1645" y="51" width="2" height="1" fill="#000"/>
<polygon points="8,34 15,34 11.5,38" fill="#000"/>
<text x="20" y="38.5" font-size="9.7" fill="#000" stroke="#000" stroke-width=".3" text-anchor="start" textLength="204" lengthAdjust="spacingAndGlyphs">GBPUSD-,H4&#160;&#160;1.29303 1.29329 1.29279 1.29309</text>
<g shape-rendering="auto"><line x1="1287.7" y1="205.6" x2="1348" y2="152.5" stroke="#e8121d" stroke-width="3"/><polygon points="1359,143 1340.5,147.5 1352.5,161" fill="#e8121d"/></g>
<text x="9" y="597" font-size="9.7" fill="#000" stroke="#000" stroke-width=".3" text-anchor="start" textLength="148" lengthAdjust="spacingAndGlyphs">MACD(12,26,9) 0.005050 0.004149</text>
<rect x="5" y="642" width="2" height="13" fill="#00ff00"/>
<rect x="20" y="641" width="3" height="14" fill="#00ff00"/>
<rect x="36" y="644" width="3" height="11" fill="#00ff00"/>
<rect x="52" y="647" width="3" height="8" fill="#00ff00"/>
<rect x="68" y="648" width="3" height="7" fill="#00ff00"/>
<rect x="84" y="654" width="3" height="1" fill="#00ff00"/>
<rect x="100" y="655" width="3" height="4" fill="#00ff00"/>
<rect x="116" y="655" width="3" height="6" fill="#00ff00"/>
<rect x="132" y="655" width="3" height="10" fill="#00ff00"/>
<rect x="148" y="655" width="3" height="12" fill="#00ff00"/>
<rect x="164" y="655" width="3" height="11" fill="#00ff00"/>
<rect x="180" y="655" width="3" height="10" fill="#00ff00"/>
<rect x="196" y="655" width="3" height="8" fill="#00ff00"/>
<rect x="212" y="655" width="3" height="9" fill="#00ff00"/>
<rect x="228" y="655" width="3" height="9" fill="#00ff00"/>
<rect x="244" y="655" width="3" height="11" fill="#00ff00"/>
<rect x="260" y="655" width="3" height="12" fill="#00ff00"/>
<rect x="276" y="655" width="3" height="9" fill="#00ff00"/>
<rect x="292" y="655" width="3" height="9" fill="#00ff00"/>
<rect x="308" y="655" width="3" height="9" fill="#00ff00"/>
<rect x="324" y="655" width="3" height="5" fill="#00ff00"/>
<rect x="340" y="655" width="3" height="1" fill="#00ff00"/>
<rect x="356" y="655" width="3" height="1" fill="#00ff00"/>
<rect x="372" y="655" width="3" height="1" fill="#00ff00"/>
<rect x="388" y="655" width="3" height="2" fill="#00ff00"/>
<rect x="404" y="655" width="3" height="9" fill="#00ff00"/>
<rect x="420" y="655" width="3" height="17" fill="#00ff00"/>
<rect x="436" y="655" width="3" height="23" fill="#00ff00"/>
<rect x="452" y="655" width="3" height="27" fill="#00ff00"/>
<rect x="468" y="655" width="3" height="32" fill="#00ff00"/>
<rect x="484" y="655" width="3" height="33" fill="#00ff00"/>
<rect x="500" y="655" width="3" height="33" fill="#00ff00"/>
<rect x="516" y="655" width="3" height="36" fill="#00ff00"/>
<rect x="532" y="655" width="3" height="39" fill="#00ff00"/>
<rect x="548" y="655" width="3" height="40" fill="#00ff00"/>
<rect x="564" y="655" width="3" height="40" fill="#00ff00"/>
<rect x="580" y="655" width="3" height="38" fill="#00ff00"/>
<rect x="596" y="655" width="3" height="35" fill="#00ff00"/>
<rect x="612" y="655" width="3" height="26" fill="#00ff00"/>
<rect x="628" y="655" width="3" height="20" fill="#00ff00"/>
<rect x="644" y="655" width="3" height="15" fill="#00ff00"/>
<rect x="660" y="655" width="3" height="10" fill="#00ff00"/>
<rect x="676" y="655" width="3" height="10" fill="#00ff00"/>
<rect x="692" y="655" width="3" height="9" fill="#00ff00"/>
<rect x="708" y="655" width="3" height="6" fill="#00ff00"/>
<rect x="724" y="655" width="3" height="4" fill="#00ff00"/>
<rect x="740" y="655" width="3" height="3" fill="#00ff00"/>
<rect x="756" y="655" width="3" height="2" fill="#00ff00"/>
<rect x="772" y="654" width="3" height="1" fill="#00ff00"/>
<rect x="788" y="651" width="3" height="4" fill="#00ff00"/>
<rect x="804" y="647" width="3" height="8" fill="#00ff00"/>
<rect x="820" y="645" width="3" height="10" fill="#00ff00"/>
<rect x="836" y="644" width="3" height="11" fill="#00ff00"/>
<rect x="852" y="644" width="3" height="11" fill="#00ff00"/>
<rect x="868" y="644" width="3" height="11" fill="#00ff00"/>
<rect x="884" y="645" width="3" height="10" fill="#00ff00"/>
<rect x="900" y="646" width="3" height="9" fill="#00ff00"/>
<rect x="916" y="646" width="3" height="9" fill="#00ff00"/>
<rect x="932" y="647" width="3" height="8" fill="#00ff00"/>
<rect x="948" y="648" width="3" height="7" fill="#00ff00"/>
<rect x="964" y="646" width="3" height="9" fill="#00ff00"/>
<rect x="980" y="640" width="3" height="15" fill="#00ff00"/>
<rect x="996" y="641" width="3" height="14" fill="#00ff00"/>
<rect x="1012" y="639" width="3" height="16" fill="#00ff00"/>
<rect x="1028" y="638" width="3" height="17" fill="#00ff00"/>
<rect x="1044" y="638" width="3" height="17" fill="#00ff00"/>
<rect x="1060" y="639" width="3" height="16" fill="#00ff00"/>
<rect x="1076" y="637" width="3" height="18" fill="#00ff00"/>
<rect x="1092" y="627" width="3" height="28" fill="#00ff00"/>
<rect x="1108" y="620" width="3" height="35" fill="#00ff00"/>
<rect x="1124" y="615" width="3" height="40" fill="#00ff00"/>
<rect x="1140" y="614" width="3" height="41" fill="#00ff00"/>
<rect x="1156" y="614" width="3" height="41" fill="#00ff00"/>
<rect x="1172" y="617" width="3" height="38" fill="#00ff00"/>
<rect x="1188" y="615" width="3" height="40" fill="#00ff00"/>
<rect x="1204" y="611" width="3" height="44" fill="#00ff00"/>
<rect x="1220" y="608" width="3" height="47" fill="#00ff00"/>
<rect x="1236" y="605" width="3" height="50" fill="#00ff00"/>
<rect x="1252" y="603" width="3" height="52" fill="#00ff00"/>
<rect x="1268" y="598" width="3" height="57" fill="#00ff00"/>
<rect x="1284" y="597" width="3" height="58" fill="#00ff00"/>
<rect x="1300" y="593" width="3" height="62" fill="#00ff00"/>
<rect x="1316" y="591" width="3" height="64" fill="#00ff00"/>
<clipPath id="ci"><rect x="5" y="584" width="1639" height="241"/></clipPath>
<polyline clip-path="url(#ci)" points="-10.5,636.2 5.5,637.25 21.5,638.5 37.5,640.25 53.5,642.25 69.5,643.5 85.5,644.75 101.5,646.5 117.5,648.5 133.5,651.25 149.5,653.75 165.5,656.25 181.5,658.25 197.5,660.5 213.5,662.25 229.5,663.75 245.5,663.75 261.5,663.75 277.5,663.75 293.5,663.75 309.5,663.75 325.5,663.25 341.5,662 357.5,661 373.5,660.75 389.5,660 405.5,660 421.5,660 437.5,662 453.5,664.25 469.5,667.25 485.5,670 501.5,674 517.5,677 533.5,682 549.5,686 565.5,688.75 581.5,689.5 597.5,689.5 613.5,689.5 629.5,688.5 645.5,686 661.5,682.75 677.5,680 693.5,677.25 709.5,673.5 725.5,669.25 741.5,666.25 757.5,663.5 773.5,661.25 789.5,659.25 805.5,657.5 821.5,654.25 837.5,652.25 853.5,651.75 869.5,649.5 885.5,648.25 901.5,647.25 917.5,646 933.5,646 949.5,646 965.5,646 981.5,645 997.5,644.5 1013.5,644.25 1029.5,644 1045.5,643.5 1061.5,642.25 1077.5,641.5 1093.5,639.5 1109.5,636.5 1125.5,633 1141.5,630 1157.5,627.25 1173.5,624.5 1189.5,622.5 1205.5,619.25 1221.5,616.5 1237.5,613.75 1253.5,611.25 1269.5,609.25 1285.5,607.25 1301.5,605 1317.5,603" fill="none" stroke="#ff0000" stroke-width="2"/>
<rect x="1645" y="586" width="1" height="1" fill="#000"/>
<text x="1648" y="595" font-size="9.7" fill="#000" stroke="#000" stroke-width=".3" text-anchor="start" textLength="38" lengthAdjust="spacingAndGlyphs">0.005456</text>
<rect x="1645" y="655" width="1" height="1" fill="#000"/>
<text x="1648.3" y="659" font-size="9.7" fill="#000" stroke="#000" stroke-width=".3" text-anchor="start" textLength="17.5" lengthAdjust="spacingAndGlyphs">0.00</text>
<rect x="1645" y="699" width="1" height="1" fill="#000"/>
<text x="1648" y="697" font-size="9.7" fill="#000" stroke="#000" stroke-width=".3" text-anchor="start" textLength="41" lengthAdjust="spacingAndGlyphs">-0.003479</text>
<text x="9" y="715" font-size="9.7" fill="#000" stroke="#000" stroke-width=".3" text-anchor="start" textLength="68" lengthAdjust="spacingAndGlyphs">RSI(14) 71.9478</text>
 <line x1="6" y1="727.5" x2="1642" y2="727.5" stroke="#000" stroke-width="1" stroke-dasharray="3 3"/>
 <line x1="6" y1="763.5" x2="1642" y2="763.5" stroke="#000" stroke-width="1" stroke-dasharray="3 3"/>
 <line x1="6" y1="805.5" x2="1642" y2="805.5" stroke="#000" stroke-width="1" stroke-dasharray="3 3"/>
<polyline clip-path="url(#ci)" points="-10.5,759.25 5.5,759.25 21.5,758.25 37.5,765.0 53.5,765.0 69.5,765.0 85.5,775.25 101.5,775.25 117.5,772.25 133.5,777.5 149.5,774.25 165.5,766.25 181.5,766.0 197.5,763.25 213.5,770.5 229.5,769.5 245.5,771.25 261.5,771.25 277.5,766.0 293.5,763.5 309.5,765.0 325.5,758.5 341.5,757.25 357.5,759.5 373.5,765.0 389.5,765.0 405.5,784.25 421.5,788.5 437.5,787.0 453.5,787.0 469.5,789.5 485.5,781.25 501.5,778.25 517.5,785.5 533.5,785.5 549.5,785.5 565.5,784.25 581.5,775.75 597.5,773.25 613.5,755.5 629.5,759.0 645.5,759.25 661.5,758.25 677.5,767.5 693.5,764.75 709.5,760.25 725.5,761.5 741.5,761.5 757.5,761.5 773.5,760.0 789.5,754.0 805.5,750.25 821.5,755.5 837.5,755.5 853.5,759.25 869.5,758.25 885.5,762.75 901.5,760.5 917.5,761.75 933.5,761.75 949.5,764.5 965.5,753.75 981.5,743.0 997.5,760.75 1013.5,755.5 1029.5,756.25 1045.5,757.25 1061.5,758.5 1077.5,752.0 1093.5,738.0 1109.5,739.25 1125.5,739.25 1141.5,747.5 1157.5,747.5 1173.5,757.5 1189.5,747.75 1205.5,743.75 1221.5,743.25 1237.5,742.5 1253.5,742.5 1269.5,738.0 1285.5,741.25 1301.5,737.5 1317.5,737.25" fill="none" stroke="#1e90ff" stroke-width="2"/>
<text x="1648.4" y="713" font-size="9.7" fill="#000" stroke="#000" stroke-width=".3" text-anchor="start" textLength="14.5" lengthAdjust="spacingAndGlyphs">100</text>
<text x="1647" y="731" font-size="9.7" fill="#000" stroke="#000" stroke-width=".3" text-anchor="start" textLength="10" lengthAdjust="spacingAndGlyphs">80</text>
<text x="1647" y="767" font-size="9.7" fill="#000" stroke="#000" stroke-width=".3" text-anchor="start" textLength="10" lengthAdjust="spacingAndGlyphs">50</text>
<text x="1647.6" y="809" font-size="9.7" fill="#000" stroke="#000" stroke-width=".3" text-anchor="start" textLength="9.6" lengthAdjust="spacingAndGlyphs">15</text>
<text x="1648" y="821" font-size="9.7" fill="#000" stroke="#000" stroke-width=".3" text-anchor="start" textLength="5" lengthAdjust="spacingAndGlyphs">0</text>
<rect x="1645" y="704" width="1" height="1" fill="#000"/>
<rect x="1645" y="823" width="1" height="1" fill="#000"/>
<rect x="5" y="825" width="1" height="3" fill="#000"/>
<text x="4" y="837" font-size="9.7" fill="#000" stroke="#000" stroke-width=".3" text-anchor="start" textLength="49.5" lengthAdjust="spacingAndGlyphs">22 Jun 2023</text>
<rect x="69" y="825" width="1" height="3" fill="#000"/>
<text x="68" y="837" font-size="9.7" fill="#000" stroke="#000" stroke-width=".3" text-anchor="start" textLength="52.0" lengthAdjust="spacingAndGlyphs">22 Jun 20:00</text>
<rect x="133" y="825" width="1" height="3" fill="#000"/>
<text x="132" y="837" font-size="9.7" fill="#000" stroke="#000" stroke-width=".3" text-anchor="start" textLength="52.0" lengthAdjust="spacingAndGlyphs">23 Jun 12:00</text>
<rect x="197" y="825" width="1" height="3" fill="#000"/>
<text x="196" y="837" font-size="9.7" fill="#000" stroke="#000" stroke-width=".3" text-anchor="start" textLength="52.0" lengthAdjust="spacingAndGlyphs">26 Jun 04:00</text>
<rect x="261" y="825" width="1" height="3" fill="#000"/>
<text x="260" y="837" font-size="9.7" fill="#000" stroke="#000" stroke-width=".3" text-anchor="start" textLength="52.0" lengthAdjust="spacingAndGlyphs">26 Jun 20:00</text>
<rect x="325" y="825" width="1" height="3" fill="#000"/>
<text x="324" y="837" font-size="9.7" fill="#000" stroke="#000" stroke-width=".3" text-anchor="start" textLength="52.0" lengthAdjust="spacingAndGlyphs">27 Jun 12:00</text>
<rect x="389" y="825" width="1" height="3" fill="#000"/>
<text x="388" y="837" font-size="9.7" fill="#000" stroke="#000" stroke-width=".3" text-anchor="start" textLength="52.0" lengthAdjust="spacingAndGlyphs">28 Jun 04:00</text>
<rect x="453" y="825" width="1" height="3" fill="#000"/>
<text x="452" y="837" font-size="9.7" fill="#000" stroke="#000" stroke-width=".3" text-anchor="start" textLength="52.0" lengthAdjust="spacingAndGlyphs">28 Jun 20:00</text>
<rect x="517" y="825" width="1" height="3" fill="#000"/>
<text x="516" y="837" font-size="9.7" fill="#000" stroke="#000" stroke-width=".3" text-anchor="start" textLength="52.0" lengthAdjust="spacingAndGlyphs">29 Jun 12:00</text>
<rect x="581" y="825" width="1" height="3" fill="#000"/>
<text x="580" y="837" font-size="9.7" fill="#000" stroke="#000" stroke-width=".3" text-anchor="start" textLength="52.0" lengthAdjust="spacingAndGlyphs">30 Jun 04:00</text>
<rect x="645" y="825" width="1" height="3" fill="#000"/>
<text x="644" y="837" font-size="9.7" fill="#000" stroke="#000" stroke-width=".3" text-anchor="start" textLength="44.0" lengthAdjust="spacingAndGlyphs">2 Jul 23:00</text>
<rect x="709" y="825" width="1" height="3" fill="#000"/>
<text x="708" y="837" font-size="9.7" fill="#000" stroke="#000" stroke-width=".3" text-anchor="start" textLength="44.0" lengthAdjust="spacingAndGlyphs">3 Jul 12:00</text>
<rect x="773" y="825" width="1" height="3" fill="#000"/>
<text x="772" y="837" font-size="9.7" fill="#000" stroke="#000" stroke-width=".3" text-anchor="start" textLength="44.0" lengthAdjust="spacingAndGlyphs">4 Jul 04:00</text>
<rect x="837" y="825" width="1" height="3" fill="#000"/>
<text x="836" y="837" font-size="9.7" fill="#000" stroke="#000" stroke-width=".3" text-anchor="start" textLength="44.0" lengthAdjust="spacingAndGlyphs">4 Jul 20:00</text>
<rect x="901" y="825" width="1" height="3" fill="#000"/>
<text x="900" y="837" font-size="9.7" fill="#000" stroke="#000" stroke-width=".3" text-anchor="start" textLength="44.0" lengthAdjust="spacingAndGlyphs">5 Jul 12:00</text>
<rect x="965" y="825" width="1" height="3" fill="#000"/>
<text x="964" y="837" font-size="9.7" fill="#000" stroke="#000" stroke-width=".3" text-anchor="start" textLength="44.0" lengthAdjust="spacingAndGlyphs">6 Jul 04:00</text>
<rect x="1029" y="825" width="1" height="3" fill="#000"/>
<text x="1028" y="837" font-size="9.7" fill="#000" stroke="#000" stroke-width=".3" text-anchor="start" textLength="44.0" lengthAdjust="spacingAndGlyphs">6 Jul 20:00</text>
<rect x="1093" y="825" width="1" height="3" fill="#000"/>
<text x="1092" y="837" font-size="9.7" fill="#000" stroke="#000" stroke-width=".3" text-anchor="start" textLength="44.0" lengthAdjust="spacingAndGlyphs">7 Jul 12:00</text>
<rect x="1157" y="825" width="1" height="3" fill="#000"/>
<text x="1156" y="837" font-size="9.7" fill="#000" stroke="#000" stroke-width=".3" text-anchor="start" textLength="49.0" lengthAdjust="spacingAndGlyphs">10 Jul 04:00</text>
<rect x="1221" y="825" width="1" height="3" fill="#000"/>
<text x="1220" y="837" font-size="9.7" fill="#000" stroke="#000" stroke-width=".3" text-anchor="start" textLength="49.0" lengthAdjust="spacingAndGlyphs">10 Jul 20:00</text>
<rect x="1285" y="825" width="1" height="3" fill="#000"/>
<text x="1284" y="837" font-size="9.7" fill="#000" stroke="#000" stroke-width=".3" text-anchor="start" textLength="48.4" lengthAdjust="spacingAndGlyphs">11 Jul 12:00</text>
</svg>
</body></html>
